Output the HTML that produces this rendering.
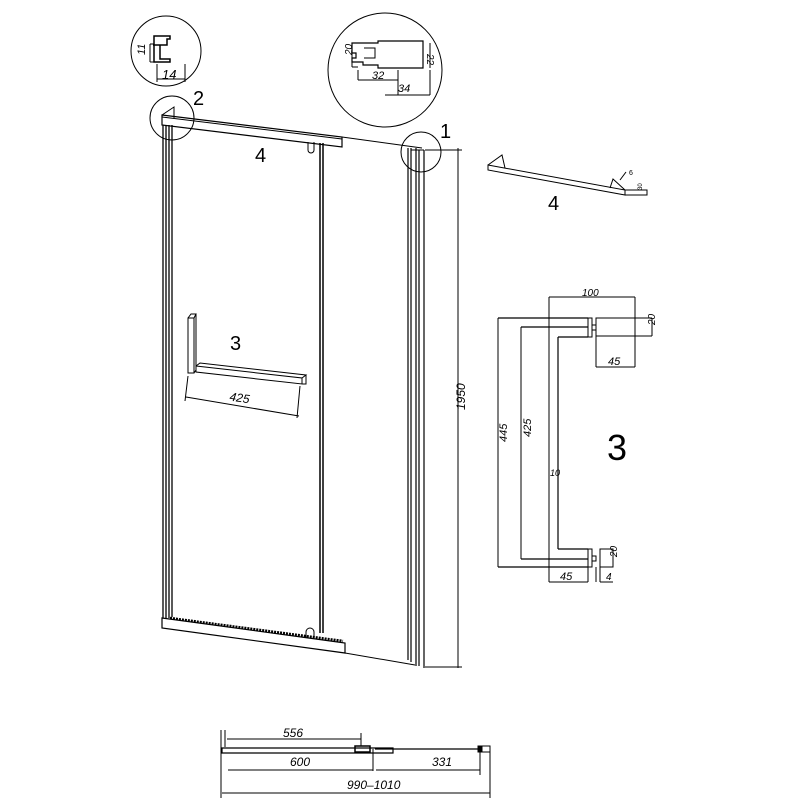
<!DOCTYPE html>
<html><head><style>body{margin:0;background:#fff}svg{display:block}text{font-family:"Liberation Sans",sans-serif;fill:#000}</style></head>
<body>
<svg width="800" height="800" viewBox="0 0 800 800" xmlns="http://www.w3.org/2000/svg" fill="none" stroke="#000" stroke-width="1">
<!-- detail circles -->
<circle cx="166" cy="51" r="35"/>
<path d="M153 45h14v-6h3v-3h-16v26h16v-3h-10v-14z" stroke-width="1.5"/>
<path d="M150 44v18M150 44h4M150 62h4M157 64v18M185 64v18M157 79h28"/>
<text x="140" y="60" font-size="11" font-style="italic" transform="rotate(-90 140 55)" stroke="none">11</text>
<text x="162" y="79" font-size="13" font-style="italic" stroke="none">14</text>

<circle cx="385" cy="70" r="57"/>
<path d="M352 43h26v-2h45v27h-45v-3h-15v-3h-11v-4h4v-5h-4z" stroke-width="1.2"/>
<path d="M364 48h11v10h-11" />
<path d="M352 43v24M352 67h6M423 68v-27M430 43v25M358 70v10M398 70v25M430 70v25M385 95h45M358 80h40"/>
<text x="349" y="64" font-size="10" font-style="italic" transform="rotate(-90 346 58)" stroke="none">20</text>
<text x="432" y="63" font-size="10" font-style="italic" transform="rotate(90 434 56)" stroke="none">22</text>
<text x="372" y="79" font-size="11" font-style="italic" stroke="none">32</text>
<text x="398" y="92" font-size="11" font-style="italic" stroke="none">34</text>

<circle cx="172" cy="118" r="22"/>
<circle cx="421" cy="152" r="20"/>
<text x="193" y="105" font-size="20" stroke="none">2</text>
<text x="440" y="138" font-size="20" stroke="none">1</text>
<text x="255" y="162" font-size="20" stroke="none">4</text>

<!-- top bar -->
<path d="M162 115l180 22v10l-180-22z" stroke-width="1.2"/>
<path d="M162 115l12-8v12M162 117l180 22" />
<path d="M342 137l80 11"/>
<path d="M308 142v8a3 3 0 0 0 6 0v-8"/>
<!-- left frame -->
<path d="M163 125v493M166 125v493M169 125v493M172 125v492" stroke-width="1.3"/>
<!-- door edge -->
<path d="M320 143v490M323 143v490" stroke-width="1.5"/>
<!-- right profile -->
<path d="M408 148v512M411 148v514M416 148v518M419 150v516M424 150v518" stroke-width="1.2"/>
<path d="M411 150h13" />
<!-- bottom bar -->
<path d="M162 618l183 25v10l-183-25z" stroke-width="1.2"/>
<path d="M170 618l173 23" stroke-width="2.5" stroke-dasharray="2 1"/>
<path d="M345 653l70 12M306 638v-6a4 4 0 0 1 8 0v7"/>
<!-- height dim -->
<path d="M425 150h37M425 667h37M458 148v520"/>
<text x="450" y="425" font-size="12" font-style="italic" transform="rotate(-90 450 410)" stroke="none">1950</text>

<!-- handle 3 small -->
<path d="M188 318h6v55h-6z M188 318l3-4h5l-2 4M194 318l2-4v56l-2 3"/>
<path d="M196 366l106 12v6l-106-12zM196 366l4-3l106 12l-4 3M302 378v6h4v-9"/>
<path d="M188 376l-3 25M300 386l-3 32M186 397l113 19"/>
<text x="229" y="402" font-size="12" font-style="italic" transform="rotate(8 240 402)" stroke="none">425</text>
<text x="230" y="350" font-size="20" stroke="none">3</text>

<!-- bar 4 -->
<path d="M488 165l137 25v5l-137-25zM488 165l14-10 3 13M625 190l-12-11-3 9M625 190h22v5h-22"/>
<path d="M620 180l6-8"/>
<text x="629" y="175" font-size="7" stroke="none">6</text>
<text x="642" y="190" font-size="6" transform="rotate(-90 642 190)" stroke="none">30</text>
<text x="548" y="210" font-size="20" stroke="none">4</text>

<!-- handle 3 large -->
<path d="M498 318h90M521 327h67M558 337h30M558 337v212M558 549h30M521 559h67M498 567h90" stroke-width="1.2"/>
<path d="M498 318v249M521 327v232"/>
<path d="M588 318v19h4v-19zM588 549v18h4v-18zM592 325h4v5h-4M592 556h4v5h-4"/>
<path d="M596 318h39v18h-39zM596 318v49M596 367h39"/>
<path d="M549 297v285M635 297v70M549 297h86M635 318h17M635 336h17M652 318v18"/>
<path d="M600 549h13v18h-13zM596 567v15M600 567v15M549 582h39M588 567v15M600 582h13"/>
<text x="582" y="296" font-size="10" font-style="italic" stroke="none">100</text>
<text x="608" y="365" font-size="11" font-style="italic" stroke="none">45</text>
<text x="560" y="580" font-size="11" font-style="italic" stroke="none">45</text>
<text x="606" y="580" font-size="10" font-style="italic" stroke="none">4</text>
<text x="650" y="330" font-size="10" font-style="italic" transform="rotate(-90 650 325)" stroke="none">20</text>
<text x="612" y="562" font-size="10" font-style="italic" transform="rotate(-90 612 557)" stroke="none">20</text>
<text x="500" y="455" font-size="11" font-style="italic" transform="rotate(-90 497 445)" stroke="none">445</text>
<text x="524" y="450" font-size="11" font-style="italic" transform="rotate(-90 521 440)" stroke="none">425</text>
<text x="550" y="476" font-size="9" font-style="italic" stroke="none">10</text>
<text x="607" y="460" font-size="36" stroke="none">3</text>

<!-- plan view -->
<path d="M221 730v68M225 730v17"/>
<path d="M227 739h134M361 733v13"/>
<path d="M222 748h171v5h-171z" stroke-width="1.2"/>
<path d="M355 746h15v6h-15z" stroke-width="1.5"/>
<path d="M375 749h103" stroke-width="1.3"/>
<path d="M478 746h4v6h-4z" fill="#000"/>
<path d="M482 746h8v6h-8z"/>
<path d="M373 749v22M480 752v23M490 752v46"/>
<path d="M228 770h145M376 770h104M222 793h268"/>
<text x="283" y="737" font-size="12" font-style="italic" stroke="none">556</text>
<text x="290" y="766" font-size="12" font-style="italic" stroke="none">600</text>
<text x="432" y="766" font-size="12" font-style="italic" stroke="none">331</text>
<text x="347" y="789" font-size="12" font-style="italic" stroke="none">990–1010</text>
</svg>
</body></html>
